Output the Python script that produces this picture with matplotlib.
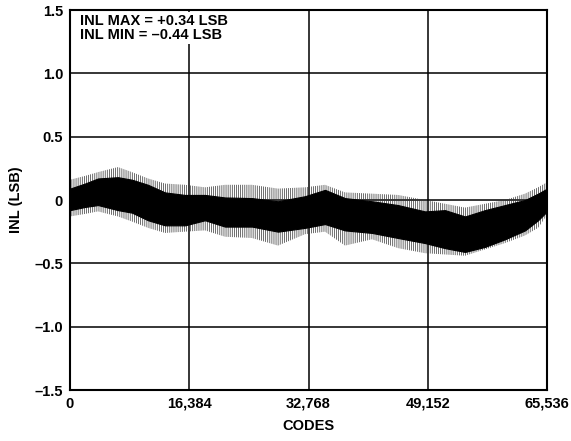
import numpy as np
import matplotlib.pyplot as plt

plt.rcParams['font.family'] = ['Liberation Sans', 'DejaVu Sans']
plt.rcParams['font.weight'] = 'bold'
plt.rcParams['hatch.linewidth'] = 0.5

# INL envelope (LSB) at these codes
codes = [0, 2061, 3847, 6595, 8519, 10717, 13053, 15801, 18549, 21297, 25007,
         28579, 32289, 35037, 37785, 41495, 45067, 48777, 51525, 54273, 57021,
         59769, 62517, 64303, 65536]
core_hi = [0.09, 0.13, 0.17, 0.18, 0.16, 0.12, 0.06, 0.04, 0.04, 0.02, 0.015,
           -0.01, 0.03, 0.08, 0.015, -0.01, -0.04, -0.09, -0.08, -0.13, -0.08,
           -0.04, 0.0, 0.05, 0.09]
core_lo = [-0.08, -0.055, -0.04, -0.08, -0.10, -0.16, -0.20, -0.20, -0.16, -0.21,
           -0.21, -0.25, -0.22, -0.19, -0.24, -0.26, -0.30, -0.34, -0.38, -0.41,
           -0.37, -0.31, -0.24, -0.16, -0.09]
spike_hi = [0.16, 0.19, 0.22, 0.26, 0.22, 0.17, 0.13, 0.12, 0.10, 0.12, 0.12,
            0.09, 0.10, 0.12, 0.06, 0.05, 0.04, 0.0, -0.03, -0.06, -0.03, 0.0,
            0.05, 0.10, 0.14]
spike_lo = [-0.13, -0.11, -0.09, -0.13, -0.17, -0.22, -0.26, -0.25, -0.24, -0.29,
            -0.30, -0.36, -0.27, -0.25, -0.36, -0.31, -0.38, -0.42, -0.43, -0.44,
            -0.39, -0.34, -0.28, -0.22, -0.12]

xticks = [0, 16384, 32768, 49152, 65536]
xtick_labels = ['0', '16,384', '32,768', '49,152', '65,536']
yticks = [-1.5, -1.0, -0.5, 0, 0.5, 1.0, 1.5]
ytick_labels = ['\u20131.5', '\u20131.0', '\u20130.5', '0', '0.5', '1.0', '1.5']

fig = plt.figure(figsize=(5.71, 4.41), dpi=100)
ax = fig.add_axes([70 / 571, 51 / 441, 477 / 571, 380 / 441])

# spiky fringe as vertical hatching, dense core solid black
ax.fill_between(codes, spike_lo, spike_hi, facecolor='none', edgecolor='#333333',
                hatch='||||||||', linewidth=0, zorder=2)
ax.fill_between(codes, core_lo, core_hi, color='black', linewidth=0.8, zorder=3)

ax.set_xlim(0, 65536)
ax.set_ylim(-1.5, 1.5)
ax.set_xticks(xticks)
ax.set_xticklabels(xtick_labels)
ax.set_yticks(yticks)
ax.set_yticklabels(ytick_labels)
ax.tick_params(length=0, labelsize=10.5, pad=5)
ax.grid(True, color='black', linewidth=1.1)
ax.set_axisbelow(True)
for s in ax.spines.values():
    s.set_linewidth(1.5)

ax.set_xlabel('CODES', fontsize=10.5, fontweight='bold', labelpad=6)
ax.set_ylabel('INL (LSB)', fontsize=10.5, fontweight='bold', labelpad=8)

ax.text(0.02, 0.99, 'INL MAX = +0.34 LSB\nINL MIN = \u20130.44 LSB',
        transform=ax.transAxes, fontsize=10.5, fontweight='bold', va='top',
        ha='left', linespacing=1.0, zorder=5,
        bbox=dict(facecolor='white', edgecolor='none', pad=1.5))

fig.savefig('out.png', dpi=100)
